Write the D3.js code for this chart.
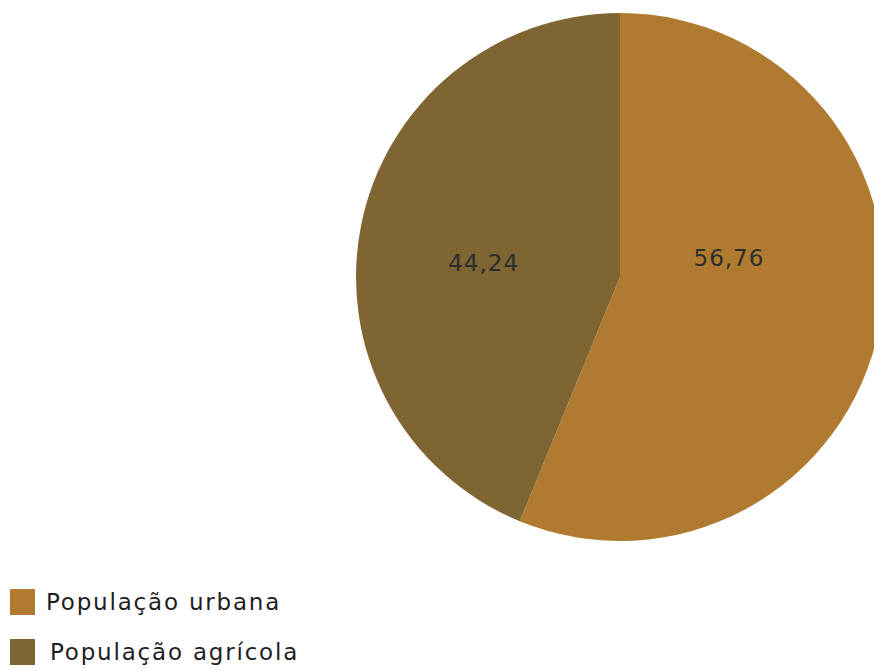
<!DOCTYPE html>
<html>
<head>
<meta charset="utf-8">
<script src="https://cdn.jsdelivr.net/npm/d3@7"></script>
<style>
  html, body { margin: 0; padding: 0; background: #ffffff; }
  svg { display: block; }
</style>
</head>
<body>
<svg id="chart" width="874" height="671"></svg>
<script>
// Population shares
const categories = ["População urbana", "População agrícola"];
const values = [56.76, 44.24];
const valueLabels = ["56,76", "44,24"];
const colors = ["#B07B30", "#7E6531"];

const svg = d3.select("#chart");
const cx = 620, cy = 277, radius = 264;
const font = "'DejaVu Sans', Verdana, sans-serif";

const pie = d3.pie().sort(null).value(d => d)
  .startAngle(0).endAngle(2 * Math.PI);
const arcs = pie(values);
const arc = d3.arc().innerRadius(0).outerRadius(radius);

const g = svg.append("g").attr("transform", `translate(${cx},${cy})`);

g.selectAll("path.slice")
  .data(arcs)
  .join("path")
  .attr("class", "slice")
  .attr("d", arc)
  .attr("fill", (d, i) => colors[i]);

// Value labels: x follows the slice centroid, y sits just above the centre line
const labelArc = d3.arc().innerRadius(0).outerRadius(radius * 0.9);
const labelScaleX = [0.935, 1.17];
const labelY = [-19, -14];
g.selectAll("text.val")
  .data(arcs)
  .join("text")
  .attr("class", "val")
  .attr("x", (d, i) => labelArc.centroid(d)[0] * labelScaleX[i])
  .attr("y", (d, i) => labelY[i])
  .attr("text-anchor", "middle")
  .attr("dominant-baseline", "central")
  .attr("font-family", font)
  .attr("font-size", 23)
  .attr("letter-spacing", 1)
  .attr("fill", "#2e2e2e")
  .text((d, i) => valueLabels[i]);

// Legend
const legend = svg.append("g");
const rows = legend.selectAll("g")
  .data(categories)
  .join("g")
  .attr("transform", (d, i) => `translate(10, ${589 + i * 50})`);
rows.append("rect")
  .attr("width", 25).attr("height", 26)
  .attr("fill", (d, i) => colors[i]);
rows.append("text")
  .attr("x", (d, i) => i === 0 ? 36 : 40)
  .attr("y", 13)
  .attr("dominant-baseline", "central")
  .attr("font-family", font)
  .attr("font-size", 23)
  .attr("letter-spacing", 1.8)
  .attr("fill", "#1e1e1e")
  .text(d => d);
</script>
</body>
</html>
